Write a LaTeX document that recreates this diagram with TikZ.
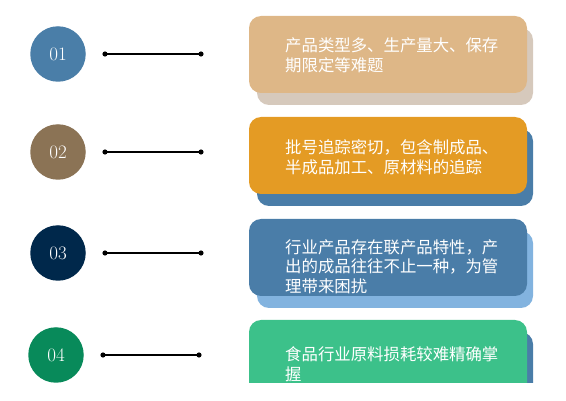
\documentclass[tikz,border=0pt]{standalone}
\usepackage{fontspec}
\newfontfamily\cjk{Noto Sans CJK SC}
\definecolor{dotA}{RGB}{74,126,168}
\definecolor{dotB}{RGB}{139,115,85}
\definecolor{dotC}{RGB}{0,40,75}
\definecolor{dotD}{RGB}{8,138,90}
\definecolor{boxA}{RGB}{222,183,135}
\definecolor{boxB}{RGB}{228,155,36}
\definecolor{boxC}{RGB}{74,125,168}
\definecolor{boxD}{RGB}{60,193,138}
\definecolor{shadeA}{RGB}{214,201,188}
\definecolor{shadeB}{RGB}{74,125,168}
\definecolor{shadeC}{RGB}{130,179,223}
\definecolor{shadeD}{RGB}{74,125,168}
\tikzset{
    numdot/.style={circle,minimum size=55.5pt,inner sep=0pt,text=white,font=\fontsize{19}{19}\selectfont},
    wire/.style={line width=1.4pt},
    note/.style={anchor=north west,inner sep=0pt,align=left,text=white,font=\cjk\fontsize{16.4}{19.5}\selectfont}
}
\begin{document}
\begin{tikzpicture}[x=1pt,y=-1pt]
    \useasboundingbox (0,0) rectangle (566,401);
    \clip (0,0) rectangle (566,383);

    \foreach \n/\x/\y/\c in {01/58/54/dotA,02/58/152/dotB,03/58/253/dotC,04/56/355/dotD} {
      \node[numdot,fill=\c] (n\n) at (\x,\y) {\n};
      \coordinate (l\n) at ({\x+47},\y);
      \coordinate (r\n) at ({\x+143},\y);
      \draw[wire] (l\n) -- (r\n);
      \fill (l\n) circle (2.6pt) (r\n) circle (2.6pt);
    }

    \foreach \t/\f/\b in {16/boxA/shadeA,117/boxB/shadeB,219/boxC/shadeC,320/boxD/shadeD} {
      \fill[\b,rounded corners=12pt] (257,{\t+12}) rectangle (533,{\t+89});
      \fill[\f,rounded corners=12pt] (249,\t) rectangle (527,{\t+77});
    }

    \node[note] (t1) at (285,37.5) {产品类型多、生产量大、保存\\期限定等难题};
    \node[note] (t2) at (285,139.5) {批号追踪密切，包含制成品、\\半成品加工、原材料的追踪};
    \node[note] (t3) at (285,239.5) {行业产品存在联产品特性，产\\出的成品往往不止一种，为管\\理带来困扰};
    \node[note] (t4) at (285,346.5) {食品行业原料损耗较难精确掌\\握};
\end{tikzpicture}
\end{document}
